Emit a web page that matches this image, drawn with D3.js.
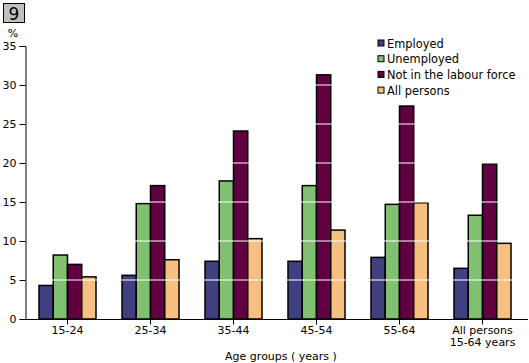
<!DOCTYPE html>
<html>
<head>
<meta charset="utf-8">
<script src="https://cdn.jsdelivr.net/npm/d3@7"></script>
<style>
  body { margin: 0; background: #fff; }
  text { font-family: Tahoma, "DejaVu Sans", sans-serif; fill: #000; }
</style>
</head>
<body>
<div id="chart"></div>
<script>
var categories = ["15-24", "25-34", "35-44", "45-54", "55-64", "All persons|15-64 years"]
var seriesNames = ["Employed", "Unemployed", "Not in the labour force", "All persons"]
var employed   = [4.3, 5.6, 7.4, 7.4, 7.9, 6.5]
var unemployed = [8.2, 14.8, 17.7, 17.1, 14.7, 13.3]
var notInLF    = [7.0, 17.1, 24.1, 31.3, 27.3, 19.9]
var allPersons = [5.4, 7.6, 10.3, 11.4, 14.9, 9.7]
var yTicks = [0, 5, 10, 15, 20, 25, 30, 35]
var colors = ["#404080", "#80c070", "#600040", "#f8c080"]

var series = [employed, unemployed, notInLF, allPersons]

var width = 529, height = 363
var svg = d3.select("#chart").append("svg")
  .attr("width", width)
  .attr("height", height)

var x0 = d3.scaleBand().domain(categories).range([26, 524])
var x1 = d3.scaleBand().domain(d3.range(4)).range([0, 57])
var y = d3.scaleLinear().domain([0, 35]).range([319, 46])

// chart number box
svg.append("rect").attr("x", 3.5).attr("y", 3.5).attr("width", 21).attr("height", 19)
  .attr("fill", "#c0c0c0").attr("stroke", "#000")
svg.append("text").attr("x", 14).attr("y", 20).attr("text-anchor", "middle")
  .style("font-size", "17px").text("9")

svg.append("text").attr("x", 13).attr("y", 37).attr("text-anchor", "middle")
  .style("font-size", "11px").text("%")

// bars
var groups = svg.append("g").selectAll("g")
  .data(categories)
  .enter().append("g")
  .attr("transform", function(d) {
    return "translate(" + (x0(d) + x0.bandwidth() / 2 - 28.5) + ",0)"
  })

groups.selectAll("rect")
  .data(function(d, i) { return series.map(function(s, j) { return {j: j, v: s[i]} }) })
  .enter().append("rect")
  .attr("x", function(d) { return x1(d.j) })
  .attr("y", function(d) { return y(d.v) })
  .attr("width", x1.bandwidth())
  .attr("height", function(d) { return y(0) - y(d.v) })
  .attr("fill", function(d) { return colors[d.j] })
  .attr("stroke", "#000")
  .attr("stroke-width", 1.5)

// white gridlines drawn over bars
svg.append("g").selectAll("line")
  .data(yTicks.filter(function(t) { return t > 0 }))
  .enter().append("line")
  .attr("x1", 27).attr("x2", 524)
  .attr("y1", function(d) { return y(d) }).attr("y2", function(d) { return y(d) })
  .attr("stroke", "#fff").attr("stroke-width", 1)

// y axis
var yAxis = svg.append("g").attr("transform", "translate(25.5,0)")
  .call(d3.axisLeft(y).tickValues(yTicks).tickSize(6).tickPadding(3))
yAxis.select(".domain").attr("stroke", "#000")
yAxis.selectAll("text").style("font-size", "11px")

// x axis
var xAxis = svg.append("g").attr("transform", "translate(0,319.5)")
  .call(d3.axisBottom(x0).tickSize(5).tickFormat(""))
xAxis.select(".domain").attr("d", "M25.5,0H528")
xAxis.selectAll(".tick").each(function(d) {
  var lines = d.split("|")
  var t = d3.select(this).append("text")
    .attr("y", 14).attr("text-anchor", "middle").style("font-size", "11px")
  lines.forEach(function(l, i) {
    t.append("tspan").attr("x", 0).attr("dy", i == 0 ? 0 : 12).text(l)
  })
})

svg.append("text").attr("x", 281).attr("y", 360).attr("text-anchor", "middle")
  .style("font-size", "11px").text("Age groups ( years )")

// legend
var legend = svg.append("g").selectAll("g")
  .data(seriesNames)
  .enter().append("g")
  .attr("transform", function(d, i) { return "translate(378," + (43 + i * 15.7) + ")" })
legend.append("rect").attr("x", 0).attr("y", -3).attr("width", 6).attr("height", 6)
  .attr("fill", function(d, i) { return colors[i] }).attr("stroke", "#000").attr("stroke-width", 1)
legend.append("text").attr("x", 9).attr("y", 4.5).style("font-size", "11.4px")
  .text(function(d) { return d })
</script>
</body>
</html>
